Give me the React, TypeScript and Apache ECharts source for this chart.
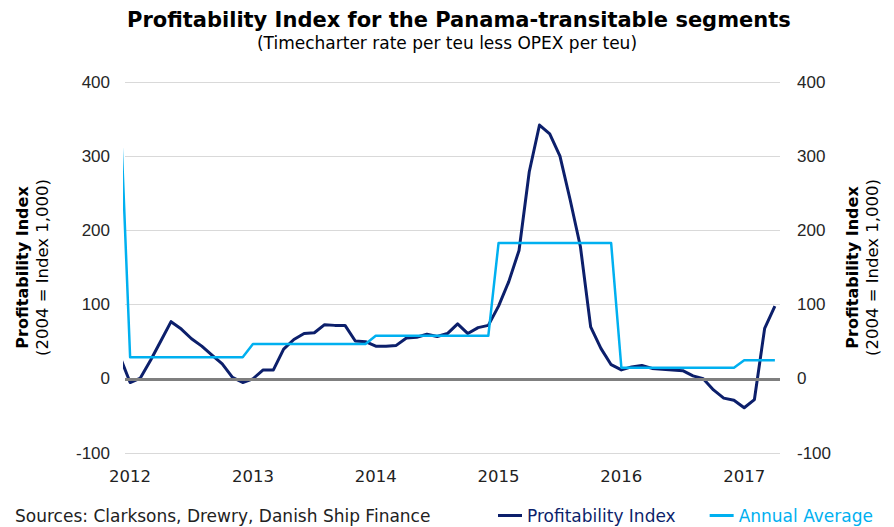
import React, { useEffect, useRef } from "react";
import * as echarts from "echarts";

// Monthly observations, Dec 2011 .. Apr 2017
const months = [
  "2011-12",
  "2012-01", "2012-02", "2012-03", "2012-04", "2012-05", "2012-06", "2012-07", "2012-08", "2012-09", "2012-10", "2012-11", "2012-12",
  "2013-01", "2013-02", "2013-03", "2013-04", "2013-05", "2013-06", "2013-07", "2013-08", "2013-09", "2013-10", "2013-11", "2013-12",
  "2014-01", "2014-02", "2014-03", "2014-04", "2014-05", "2014-06", "2014-07", "2014-08", "2014-09", "2014-10", "2014-11", "2014-12",
  "2015-01", "2015-02", "2015-03", "2015-04", "2015-05", "2015-06", "2015-07", "2015-08", "2015-09", "2015-10", "2015-11", "2015-12",
  "2016-01", "2016-02", "2016-03", "2016-04", "2016-05", "2016-06", "2016-07", "2016-08", "2016-09", "2016-10", "2016-11", "2016-12",
  "2017-01", "2017-02", "2017-03", "2017-04",
];

const profitabilityIndex = [
  30,
  -5, 1, 25, 51, 77, 67, 54, 44, 32, 20, 2, -5,
  0, 12, 12, 40, 53, 61, 62, 73, 72, 72, 51, 50,
  44, 44, 45, 55, 56, 60, 57, 61, 74, 61, 69, 72,
  98, 131, 173, 279, 342, 330, 300, 241, 178, 70, 41, 19,
  12, 16, 18, 14, 13, 12, 11, 4, 0, -15, -26, -29,
  -39, -28, 68, 98,
];

const annualAverage = [
  376,
  29, 29, 29, 29, 29, 29, 29, 29, 29, 29, 29, 29,
  47, 47, 47, 47, 47, 47, 47, 47, 47, 47, 47, 47,
  58, 58, 58, 58, 58, 58, 58, 58, 58, 58, 58, 58,
  183, 183, 183, 183, 183, 183, 183, 183, 183, 183, 183, 183,
  15, 15, 15, 15, 15, 15, 15, 15, 15, 15, 15, 15,
  25, 25, 25, 25,
];

const yearLabels = ["2012", "2013", "2014", "2015", "2016", "2017"];

const NAVY = "#0C1F6B";
const LIGHT = "#00B0F0";
const SANS = "DejaVu Sans";
const ARIAL = "Liberation Sans";

// month offset relative to Jan 2012
const monthIndex = (m: string) => {
  const [y, mo] = m.split("-").map(Number);
  return (y - 2012) * 12 + (mo - 1);
};

export default function App() {
  const ref = useRef<HTMLDivElement>(null);

  useEffect(() => {
    if (!ref.current) return;
    const chart = echarts.init(ref.current, undefined, { renderer: "svg" });

    const yearPositions = yearLabels.map((y) => monthIndex(`${y}-01`));
    const axisName = "{b|Profitability Index}\n{n|(2004 = Index 1,000)}";
    const nameRich = {
      b: { fontFamily: SANS, fontWeight: "bold" as const, fontSize: 16, color: "#000", lineHeight: 20 },
      n: { fontFamily: SANS, fontSize: 16.5, color: "#000", lineHeight: 20 },
    };

    chart.setOption({
      animation: false,
      backgroundColor: "#fff",
      title: [
        {
          text: "Profitability Index for the Panama-transitable segments",
          left: 127,
          top: 9,
          padding: 0,
          textStyle: { fontFamily: SANS, fontWeight: "bold", fontSize: 21, color: "#000" },
        },
        {
          text: "(Timecharter rate per teu less OPEX per teu)",
          left: "center",
          top: 34,
          padding: 0,
          textStyle: { fontFamily: SANS, fontWeight: "normal", fontSize: 17, color: "#000" },
        },
      ],
      grid: { left: 125, right: 114, top: 82, bottom: 74, containLabel: false },
      xAxis: {
        type: "value",
        min: -0.5,
        max: 63.5,
        axisLine: { show: false },
        axisTick: { show: false },
        splitLine: { show: false },
        axisLabel: {
          customValues: yearPositions,
          formatter: (v: number) => yearLabels[yearPositions.indexOf(Math.round(v))] ?? "",
          fontFamily: SANS,
          fontSize: 16.5,
          color: "#222",
          margin: 15,
        },
      },
      yAxis: [
        {
          type: "value",
          position: "left",
          min: -100,
          max: 400,
          interval: 100,
          axisLine: { show: false },
          axisTick: { show: false },
          splitLine: { show: true, lineStyle: { color: "#D9D9D9", width: 1.2 } },
          axisLabel: { fontFamily: ARIAL, fontSize: 17, color: "#262626", margin: 15 },
          name: axisName,
          nameLocation: "middle",
          nameRotate: 90,
          nameGap: 73,
          nameTextStyle: { rich: nameRich },
        },
        {
          type: "value",
          position: "right",
          min: -100,
          max: 400,
          interval: 100,
          axisLine: { show: false },
          axisTick: { show: false },
          splitLine: { show: false },
          axisLabel: { fontFamily: ARIAL, fontSize: 17, color: "#262626", margin: 17 },
          name: axisName,
          nameLocation: "middle",
          nameRotate: 90,
          nameGap: 62,
          nameTextStyle: { rich: nameRich },
        },
      ],
      legend: {
        left: 498,
        top: 507,
        padding: 0,
        icon: "rect",
        itemWidth: 24,
        itemHeight: 3,
        itemGap: 34,
        textStyle: { fontFamily: SANS, fontSize: 17 },
        data: [
          { name: "Profitability Index", textStyle: { color: NAVY } },
          { name: "Annual Average", textStyle: { color: LIGHT } },
        ],
      },
      graphic: [
        {
          type: "text",
          left: 15,
          top: 507,
          style: {
            text: "Sources: Clarksons, Drewry, Danish Ship Finance",
            fontFamily: SANS,
            fontSize: 17,
            fill: "#222",
          },
        },
      ],
      series: [
        {
          name: "zero",
          type: "line",
          data: [],
          silent: true,
          markLine: {
            silent: true,
            symbol: ["none", "none"],
            label: { show: false },
            lineStyle: { color: "#7F7F7F", width: 3, type: "solid" },
            data: [{ yAxis: 0 }],
          },
        },
        {
          name: "Profitability Index",
          type: "line",
          showSymbol: false,
          symbol: "none",
          clip: true,
          lineStyle: { color: NAVY, width: 3, join: "round" },
          itemStyle: { color: NAVY },
          data: months.map((m, i) => [monthIndex(m), profitabilityIndex[i]]),
        },
        {
          name: "Annual Average",
          type: "line",
          showSymbol: false,
          symbol: "none",
          clip: true,
          lineStyle: { color: LIGHT, width: 2.5, join: "round" },
          itemStyle: { color: LIGHT },
          data: months.map((m, i) => [monthIndex(m), annualAverage[i]]),
        },
      ],
    });

    return () => chart.dispose();
  }, []);

  return <div ref={ref} style={{ width: 894, height: 527, position: "absolute", left: 0, top: 0 }} />;
}
